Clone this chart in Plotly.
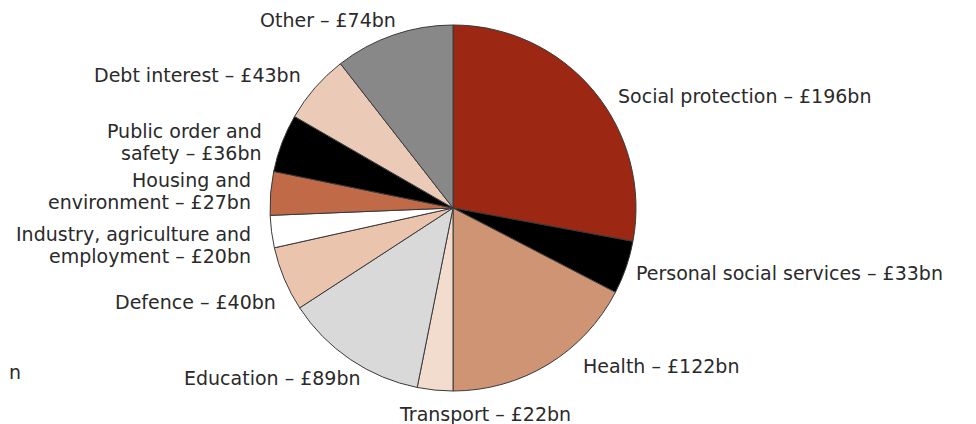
import plotly.graph_objects as go

categories = ["Social protection", "Personal social services", "Health", "Transport",
              "Education", "Defence", "Industry, agriculture and employment",
              "Housing and environment", "Public order and safety", "Debt interest", "Other"]
values = [196, 33, 122, 22, 89, 40, 20, 27, 36, 43, 74]
colors = ["#9c2814", "#000000", "#cf9474", "#f2dccd", "#d9d9d9", "#ebc4ad",
          "#ffffff", "#c06a48", "#000000", "#ebcab8", "#888888"]
label_texts = ["Social protection – £196bn", "Personal social services – £33bn",
               "Health – £122bn", "Transport – £22bn", "Education – £89bn",
               "Defence – £40bn", "Industry, agriculture and<br>employment – £20bn",
               "Housing and<br>environment – £27bn", "Public order and<br>safety – £36bn",
               "Debt interest – £43bn", "Other – £74bn"]

W, H = 976, 424
OFF = 8  # default page body margin in the browser
cx, cy, r = 453 - OFF, 208 - OFF, 183

fig = go.Figure(go.Pie(
    labels=categories, values=values, sort=False, direction="clockwise",
    rotation=0, textinfo="none", hoverinfo="label+value",
    marker=dict(colors=colors, line=dict(color="#3a3a3a", width=1)),
    domain=dict(x=[(cx - r) / W, (cx + r) / W], y=[1 - (cy + r) / H, 1 - (cy - r) / H]),
    showlegend=False,
))

# label placement in page pixels: (anchor x, first-line centre y, alignment)
placements = [
    (617, 96, "left"), (635, 273, "left"), (582, 366, "left"), (398, 414, "left"),
    (183, 378, "left"), (277, 302, "right"), (252, 234, "right"), (252, 180, "right"),
    (263, 131, "right"), (302, 75, "right"), (397, 20, "right"),
]
LINE = 22
font = dict(family="DejaVu Sans, Verdana, sans-serif", size=19, color="#2a2a2a")
annotations = []
for txt, (px, py, al) in zip(label_texts, placements):
    for i, line in enumerate(txt.split("<br>")):
        annotations.append(dict(
            text=line, x=(px - OFF) / W, y=1 - (py - OFF + i * LINE) / H,
            xref="paper", yref="paper", xanchor=al, yanchor="middle", align=al,
            showarrow=False, font=font, borderpad=0,
        ))
annotations.append(dict(text="n", x=0, y=1 - (372 - OFF) / H,
                        xref="paper", yref="paper", xanchor="left", yanchor="middle",
                        showarrow=False, font=font, borderpad=0))

fig.update_layout(
    width=W, height=H, margin=dict(l=0, r=0, t=0, b=0),
    paper_bgcolor="white", plot_bgcolor="white", annotations=annotations,
)
fig.write_html("out.html")
